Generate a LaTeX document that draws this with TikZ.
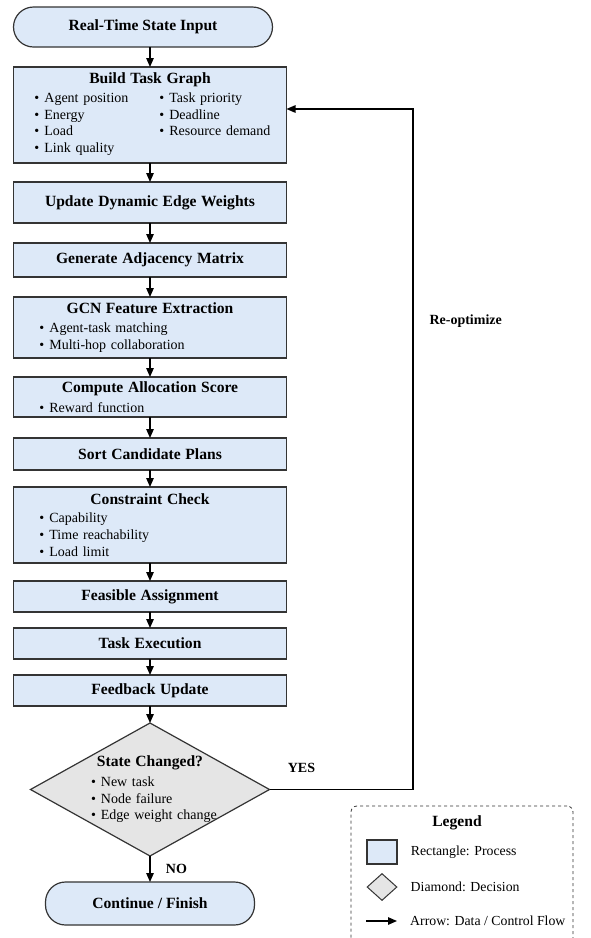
\documentclass[tikz,border=0pt]{standalone}
\usepackage{fontspec}
\setmainfont{Liberation Serif}
\usetikzlibrary{arrows.meta, shapes.geometric, positioning}

\definecolor{procblue}{RGB}{221,233,248}
\definecolor{decgray}{RGB}{229,229,229}
\definecolor{edgegray}{RGB}{52,52,52}
\setlength{\parindent}{0pt}

\newcommand{\hd}[1]{{\centering\fontsize{15.6}{19}\selectfont\bfseries #1\par}}
\newcommand{\itm}[2][20pt]{\par\hspace*{#1}\textbullet\hspace{5pt}#2}

\begin{document}
\begin{tikzpicture}[
    x=1pt, y=-1pt,
    term/.style = {
        rectangle, rounded corners=20pt,
        draw=edgegray, line width=1.2pt, fill=procblue, outer sep=0pt,
        minimum width=259pt, minimum height=40pt,
        font=\fontsize{15.6}{19}\selectfont\bfseries
    },
    proc/.style = {
        rectangle, draw=edgegray, line width=1.2pt, fill=procblue, outer sep=0pt,
        text width=261pt, inner xsep=6pt, inner ysep=2pt,
        font=\fontsize{14}{16.8}\selectfont
    },
    decide/.style = {
        diamond, draw=edgegray, line width=1.2pt, fill=decgray, outer sep=0pt,
        minimum width=239pt, minimum height=133pt, inner sep=0pt
    },
    arr/.style = {
        -{Triangle[length=9pt,width=7.5pt]},
        line width=1.3pt, color=black
    },
    lbl/.style = {font=\fontsize{14}{17}\selectfont\bfseries},
    legtxt/.style = {font=\fontsize{13.8}{16}\selectfont, inner sep=0pt}
]
\useasboundingbox (0,0) rectangle (590,938);
\fill[white] (0,0) rectangle (590,938);

%% Main vertical chain
\node[term] (start) at (143,27) {Real-Time State Input};
\node[proc, minimum height=96pt, below=20pt of start, xshift=7pt] (graph)
    {\hd{Build Task Graph}\vspace{2.5pt}
     \hspace*{15pt}\begin{tabular}[t]{@{}l@{\hspace{31pt}}l@{}}
     \textbullet\hspace{5pt}Agent position & \textbullet\hspace{5pt}Task priority\\
     \textbullet\hspace{5pt}Energy         & \textbullet\hspace{5pt}Deadline\\
     \textbullet\hspace{5pt}Load           & \textbullet\hspace{5pt}Resource demand\\
     \textbullet\hspace{5pt}Link quality   & \\
     \end{tabular}};
\node[proc, minimum height=41pt, below=19pt of graph]  (update) {\hd{Update Dynamic Edge Weights}};
\node[proc, minimum height=34pt, below=20pt of update] (adj)    {\hd{Generate Adjacency Matrix}};
\node[proc, minimum height=61pt, below=20pt of adj]    (gcn)
    {\hd{GCN Feature Extraction}\vspace{2.5pt}
     \itm{Agent-task matching}\itm{Multi-hop collaboration}};
\node[proc, minimum height=40pt, below=19pt of gcn]    (score)
    {\hd{Compute Allocation Score}\vspace{2.5pt}
     \itm{Reward function}};
\node[proc, minimum height=32pt, below=21pt of score]  (sort)   {\hd{Sort Candidate Plans}};
\node[proc, minimum height=76pt, below=17pt of sort]   (check)
    {\hd{Constraint Check}\vspace{1.5pt}
     \itm{Capability}\itm{Time reachability}\itm{Load limit}};
\node[proc, minimum height=31pt, below=18pt of check]  (feas)   {\hd{Feasible Assignment}};
\node[proc, minimum height=31pt, below=16pt of feas]   (exec)   {\hd{Task Execution}};
\node[proc, minimum height=31pt, below=16pt of exec]   (feed)   {\hd{Feedback Update}};

%% Decision and end
\node[decide, below=17pt of feed] (dec) {};
\node[text width=160pt, inner sep=0pt, font=\fontsize{14}{16.8}\selectfont] (dectext) at (dec.center)
    {\hd{State Changed?}\vspace{2.5pt}
     \itm[21pt]{New task}\itm[21pt]{Node failure}\itm[21pt]{Edge weight change}};
\node[term, minimum width=209pt, minimum height=43pt, below=26pt of dec] (finish) {Continue / Finish};

%% Arrows — main chain
\draw[arr] (graph.north |- start.south) -- (graph.north);
\draw[arr] (graph)  -- (update);
\draw[arr] (update) -- (adj);
\draw[arr] (adj)    -- (gcn);
\draw[arr] (gcn)    -- (score);
\draw[arr] (score)  -- (sort);
\draw[arr] (sort)   -- (check);
\draw[arr] (check)  -- (feas);
\draw[arr] (feas)   -- (exec);
\draw[arr] (exec)   -- (feed);
\draw[arr] (feed)   -- (dec);
\draw[arr] (dec)    -- (finish)
    node[lbl, midway, right=12pt] (no) {NO};

%% Loop back to the task graph
\coordinate (rtn) at (413,109);
\draw[arr] (dec.east) -| (rtn) -- (rtn -| graph.east);
\node[lbl] (yes) at ([xshift=32pt, yshift=22pt]dec.east) {YES};
\node[lbl, anchor=west] (reopt) at (426,321) {Re-optimize};

%% Legend
\node[draw=edgegray, dashed, line width=0.8pt, rounded corners=6pt,
      minimum width=222pt, minimum height=140pt] (legend) at (462,876) {};
\node[font=\fontsize{15.6}{19}\selectfont\bfseries] (legtitle) at (457,823) {Legend};
\node[draw=edgegray, line width=1.2pt, fill=procblue, minimum width=30pt,
      minimum height=24pt, inner sep=0pt] (swrect) at (382,852) {};
\node[legtxt, right=13pt of swrect] (legrect) {Rectangle: Process};
\node[diamond, draw=edgegray, line width=1pt, fill=decgray, minimum width=30pt,
      minimum height=27pt, inner sep=0pt] (swdia) at (382,887) {};
\node[legtxt, right=13pt of swdia] (legdia) {Diamond: Decision};
\coordinate (legA) at (366,921);
\coordinate (legB) at (397,921);
\draw[arr] (legA) -- (legB);
\node[legtxt, right=13pt of legB] (legarr) {Arrow: Data / Control Flow};

\end{tikzpicture}
\end{document}
